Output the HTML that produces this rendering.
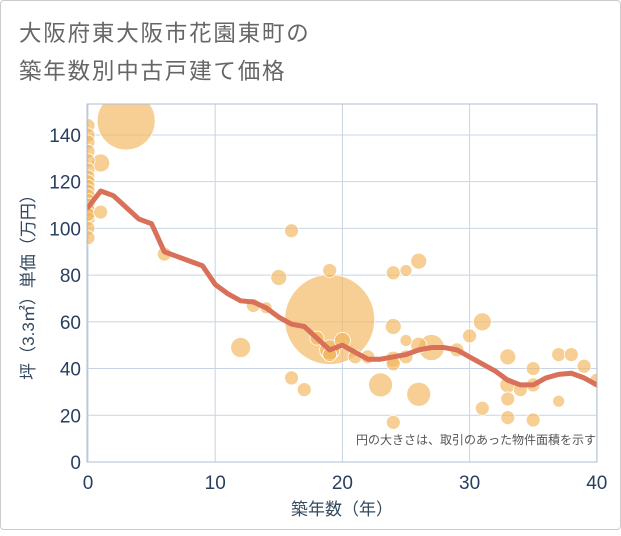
<!DOCTYPE html>
<html><head><meta charset="utf-8"><style>
body{margin:0;background:#fff;}
#wrap{position:relative;width:621px;height:530px;box-sizing:border-box;border:1px solid #ccc;border-radius:4px;background:#fff;font-family:"Liberation Sans","Noto Sans CJK JP",sans-serif;}
svg text{font-family:"Liberation Sans","Noto Sans CJK JP",sans-serif;}
</style></head><body>
<div id="wrap">
<svg id="chart" width="621" height="530">
<text x="18" y="40" font-size="22.5" fill="#666" letter-spacing="1.8">大阪府東大阪市花園東町の</text>
<text x="18" y="78" font-size="22.5" fill="#666" letter-spacing="1.8">築年数別中古戸建て価格</text>
<defs><clipPath id="clip"><rect x="86" y="103" width="510" height="358"/></clipPath></defs>
<g id="grid"></g>
<g id="bubbles" clip-path="url(#clip)"></g>
<g id="line" clip-path="url(#clip)"></g>
<g id="axes"></g>
<text x="595" y="443" font-size="12" fill="#555" text-anchor="end">円の大きさは、取引のあった物件面積を示す</text>
<text x="341" y="514" font-size="17" fill="#34495e" text-anchor="middle">築年数（年）</text>
<text transform="translate(33,282) rotate(-90)" font-size="17" fill="#34495e" text-anchor="middle">坪（3.3㎡）単価（万円）</text>
</svg>
</div>
<script>
const xTicks=[0,10,20,30,40];
const yTicks=[0,20,40,60,80,100,120,140];
const bubbleX=[0,0,0,0,0,0,0,0,0,0,0,0,0,0,0,0,0,0,1,3,1,6,16,15,19,19,12,13,14,16,17,18,19,19,20,21,22,23,24,24,25,26,24,24,25,25,26,24,27,26,29,30,31,31,33,33,33,33,34,35,35,35,37,37,38,39,40];
const bubbleY=[144,140,137,133,129,125,122,120,118,116,114,112,110,108,104,100,96,106,128,146,107,89,99,79,82,61,49,67,66,36,31,53,48,46,52,45,45,33,58,81,82,86,44,42,45,52,29,17,49,50,48,54,60,23,45,33,27,19,31,40,33,18,46,26,46,41,35];
const bubbleR=[7,7,7,7,7,7,7,7,7,7,7,7,7,7,7,7,7,7,9,29,7,7,7,8,7,45,10,7,6,7,7,7,10,7,8,7,7,12,8,7,6,8,8,7,7,6,12,7,13,8,7,7,9,7,8,8,7,7,7,7,7,7,7,6,7,7,7];
const lineX=[0,1,2,3,4,5,6,7,8,9,10,11,12,13,14,15,16,17,18,19,20,21,22,23,24,25,26,27,28,29,30,31,32,33,34,35,36,37,38,39,40];
const lineY=[109,116,114,109,104,102,90,88,86,84,76,72,69,68.5,66,62,59,58,53,48,50,47,44,44,45,46,48,49,49,48,45,42,39,35,33,33,36,37.5,38,36,33];
const NS="http://www.w3.org/2000/svg";
function sx(v){return 87+v*12.72;}
function sy(v){return 461-v*2.336;}
function mk(tag,attrs,parent){const e=document.createElementNS(NS,tag);for(const k in attrs)e.setAttribute(k,attrs[k]);parent.appendChild(e);return e;}
const grid=document.getElementById('grid'),axes=document.getElementById('axes');
yTicks.forEach(t=>{
  const l=mk('line',{x1:86,x2:596,y1:sy(t),y2:sy(t),stroke:'#c8d4e3','stroke-width':1},grid);
  
  
  const tx=mk('text',{x:80,y:sy(t)+7,'font-size':19,fill:'#2a3f5f','text-anchor':'end'},axes);
  tx.textContent=t;
  
  
});
xTicks.forEach(t=>{
  const l=mk('line',{x1:sx(t),x2:sx(t),y1:103,y2:461,stroke:'#c8d4e3','stroke-width':1},grid);
  
  
  const tx=mk('text',{x:sx(t),y:488,'font-size':19,fill:'#2a3f5f','text-anchor':'middle'},axes);
  tx.textContent=t;
  
  
});
const frame=mk('rect',{x:86,y:103,width:510,height:358,fill:'none',stroke:'#b0bccb','stroke-width':1},axes);


const bg=document.getElementById('bubbles');
const order=bubbleR.map((r,i)=>i).sort((a,b)=>bubbleR[b]-bubbleR[a]);
order.forEach(i=>{
  const c=mk('circle',{cx:sx(bubbleX[i]),cy:sy(bubbleY[i]),r:bubbleR[i],fill:'rgba(242,182,90,0.65)',stroke:'#fff','stroke-width':0.8},bg);
  
  
});
const pts=lineX.map((x,i)=>sx(x)+','+sy(lineY[i])).join(' ');
const pl=mk('polyline',{points:pts,fill:'none',stroke:'#d9705a','stroke-width':5,'stroke-linejoin':'round','stroke-linecap':'round'},document.getElementById('line'));


</script>
</body></html>
